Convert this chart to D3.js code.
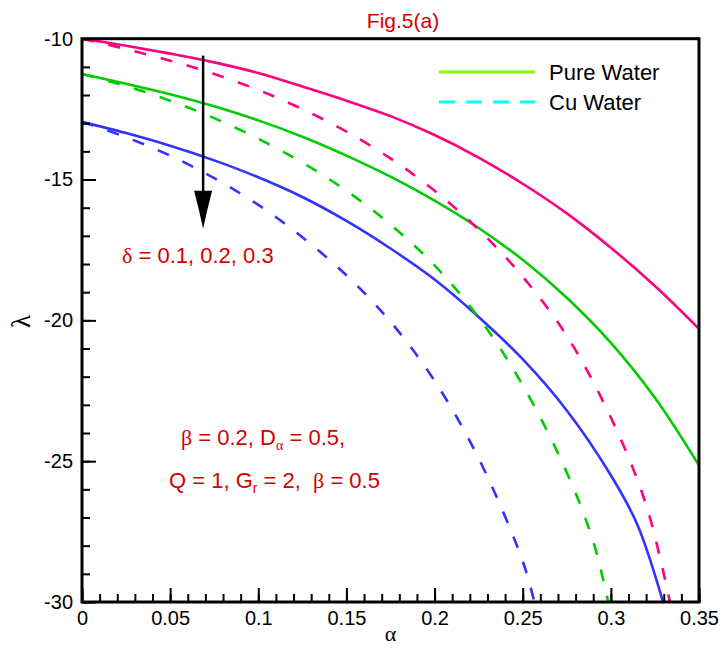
<!DOCTYPE html>
<html lang="en">
  <head>
    <meta charset="utf-8" />
    <script src="https://cdn.jsdelivr.net/npm/d3@7/dist/d3.min.js"></script>
    <title>Fig.5(a)</title>
    <style>
      body { margin: 0; background: #fff; }
      text { font-family: "Liberation Sans", Arial, sans-serif; }
      .greek { font-family: "Liberation Serif", "DejaVu Serif", serif; }
      .note { fill: #d40000; font-size: 22px; }
    </style>
  </head>
  <body>
    <div id="container"></div>

    <script>
      // alpha values
      const alphaA = [0, 0.025, 0.05, 0.075, 0.1, 0.125, 0.15, 0.175, 0.2, 0.225, 0.25, 0.275, 0.3, 0.325, 0.35];

      // pure water (solid)
      const pureD1 = [-10, -10.25, -10.53, -10.84, -11.22, -11.7, -12.2, -12.75, -13.42, -14.22, -15.15, -16.2, -17.42, -18.78, -20.3];
      const pureD2 = [-11.25, -11.6, -11.97, -12.4, -12.9, -13.48, -14.15, -14.9, -15.75, -16.72, -17.85, -19.2, -20.8, -22.75, -25.15];
      const pureD3Alpha = [0, 0.025, 0.05, 0.075, 0.1, 0.125, 0.15, 0.175, 0.2, 0.225, 0.25, 0.275, 0.3, 0.315, 0.3296];
      const pureD3 = [-12.95, -13.35, -13.8, -14.32, -14.92, -15.62, -16.47, -17.45, -18.55, -19.88, -21.38, -23.2, -25.5, -27.25, -30];

      // Cu water (dashed)
      const cuD1Alpha = [0, 0.025, 0.05, 0.075, 0.1, 0.125, 0.15, 0.175, 0.2, 0.225, 0.25, 0.275, 0.3, 0.32, 0.3335];
      const cuD1 = [-10, -10.37, -10.78, -11.25, -11.82, -12.5, -13.3, -14.25, -15.4, -16.78, -18.45, -20.55, -23.45, -26.55, -30];
      const cuD2Alpha = [0, 0.025, 0.05, 0.075, 0.1, 0.125, 0.15, 0.175, 0.2, 0.225, 0.25, 0.275, 0.29, 0.2985];
      const cuD2 = [-11.25, -11.68, -12.2, -12.82, -13.55, -14.4, -15.4, -16.6, -18.05, -19.9, -22.3, -25.4, -27.85, -30];
      const cuD3Alpha = [0, 0.025, 0.05, 0.075, 0.1, 0.125, 0.15, 0.175, 0.2, 0.225, 0.25, 0.2566];
      const cuD3 = [-12.95, -13.5, -14.15, -14.95, -15.9, -17.05, -18.4, -20.05, -22.15, -24.9, -28.55, -30];

      const xTicks = [0, 0.05, 0.1, 0.15, 0.2, 0.25, 0.3, 0.35];
      const yTicks = [-30, -25, -20, -15, -10];

      const width = 725;
      const height = 650;
      const mLeft = 82, mRight = 699, mTop = 38.7, mBottom = 602;

      const svg = d3.select("#container").append("svg").attr("width", width).attr("height", height);

      const x = d3.scaleLinear().domain([0, 0.35]).range([mLeft, mRight]);
      const y = d3.scaleLinear().domain([-30, -10]).range([mBottom, mTop]);

      svg.append("clipPath").attr("id", "plot").append("rect")
        .attr("x", mLeft).attr("y", mTop).attr("width", mRight - mLeft).attr("height", mBottom - mTop);

      const line = d3.line().x((d) => x(d[0])).y((d) => y(d[1])).curve(d3.curveCatmullRom.alpha(0.5));

      const series = [
        { a: alphaA, v: pureD1, color: "#ff0080", dash: null },
        { a: alphaA, v: pureD2, color: "#00cc00", dash: null },
        { a: pureD3Alpha, v: pureD3, color: "#3333ff", dash: null },
        { a: cuD1Alpha, v: cuD1, color: "#ff0080", dash: "12,15" },
        { a: cuD2Alpha, v: cuD2, color: "#00cc00", dash: "12,15" },
        { a: cuD3Alpha, v: cuD3, color: "#3333ff", dash: "12,15" },
      ];

      const g = svg.append("g").attr("clip-path", "url(#plot)");
      series.forEach((s) => {
        g.append("path")
          .datum(s.a.map((a, i) => [a, s.v[i]]))
          .attr("fill", "none")
          .attr("stroke", s.color)
          .attr("stroke-width", 2.6)
          .attr("stroke-dasharray", s.dash)
          .attr("d", line);
      });

      // minor ticks
      const xAxisMinor = d3.axisBottom(x).tickValues(d3.range(0, 0.3501, 0.01)).tickSize(-8).tickFormat("");
      const xAxis = d3.axisBottom(x).tickValues(xTicks).tickSize(-14).tickPadding(9).tickFormat((d) => String(d));
      const yAxisMinor = d3.axisLeft(y).tickValues(d3.range(-30, -9.99, 1)).tickSize(-8).tickFormat("");
      const yAxis = d3.axisLeft(y).tickValues(yTicks).tickSize(-14).tickPadding(9).tickFormat((d) => String(d));

      [
        svg.append("g").attr("transform", `translate(0,${mBottom})`).call(xAxisMinor),
        svg.append("g").attr("transform", `translate(0,${mBottom})`).call(xAxis),
        svg.append("g").attr("transform", `translate(${mLeft},0)`).call(yAxisMinor),
        svg.append("g").attr("transform", `translate(${mLeft},0)`).call(yAxis),
      ].forEach((ax) => {
        ax.select(".domain").remove();
        ax.selectAll("line").attr("stroke", "#000").attr("stroke-width", 2);
        ax.selectAll("text").attr("fill", "#000").style("font-size", "20px");
      });

      // frame
      svg.append("rect")
        .attr("x", mLeft).attr("y", mTop).attr("width", mRight - mLeft).attr("height", mBottom - mTop)
        .attr("fill", "none").attr("stroke", "#000").attr("stroke-width", 3);

      // axis titles
      svg.append("text").attr("class", "greek").attr("x", x(0.175)).attr("y", 641)
        .attr("text-anchor", "middle").style("font-size", "22px").text("α");
      svg.append("text").attr("class", "greek")
        .attr("transform", `translate(30,${y(-20) + 1}) rotate(-90)`)
        .attr("text-anchor", "middle").style("font-size", "27px").text("λ");

      // title
      svg.append("text").attr("class", "note").attr("x", 403).attr("y", 28)
        .attr("text-anchor", "middle").style("font-size", "21px").text("Fig.5(a)");

      // legend
      const legend = [
        { label: "Pure Water", color: "#80ff00", dash: null },
        { label: "Cu Water", color: "#00ffff", dash: "16,11" },
      ];
      legend.forEach((d, i) => {
        const ly = 72 + i * 30;
        svg.append("line").attr("x1", 439).attr("x2", 535).attr("y1", ly).attr("y2", ly)
          .attr("stroke", d.color).attr("stroke-width", 3).attr("stroke-dasharray", d.dash);
        svg.append("text").attr("x", 549).attr("y", ly + 8).style("font-size", "22px").attr("fill", "#000").text(d.label);
      });

      // arrow for increasing delta
      const arrowA = 0.0687;
      svg.append("line").attr("x1", x(arrowA)).attr("x2", x(arrowA)).attr("y1", y(-10.6)).attr("y2", y(-15.5))
        .attr("stroke", "#000").attr("stroke-width", 2.5);
      const ax0 = x(arrowA), ay0 = y(-15.4), ay1 = y(-16.75);
      svg.append("path")
        .attr("d", `M${ax0 - 9},${ay0} Q${ax0 - 4},${(ay0 + ay1) / 2} ${ax0},${ay1} Q${ax0 + 4},${(ay0 + ay1) / 2} ${ax0 + 9},${ay0} Z`)
        .attr("fill", "#000");

      // annotations
      const t1 = svg.append("text").attr("class", "note").attr("x", 122).attr("y", 263);
      t1.append("tspan").attr("class", "greek").text("δ");
      t1.append("tspan").text(" = 0.1, 0.2, 0.3");

      const t2 = svg.append("text").attr("class", "note").attr("x", 181).attr("y", 445);
      t2.append("tspan").attr("class", "greek").text("β");
      t2.append("tspan").text(" = 0.2, D");
      t2.append("tspan").attr("class", "greek").attr("dy", 5).style("font-size", "14px").text("α");
      t2.append("tspan").attr("dy", -5).text(" = 0.5,");

      const t3 = svg.append("text").attr("class", "note").attr("x", 169).attr("y", 488);
      t3.append("tspan").text("Q = 1, G");
      t3.append("tspan").attr("dy", 5).style("font-size", "14px").text("r");
      t3.append("tspan").attr("dy", -5).text(" = 2,\u00a0 ");
      t3.append("tspan").attr("class", "greek").text("β");
      t3.append("tspan").text(" = 0.5");
    </script>
  </body>
</html>
